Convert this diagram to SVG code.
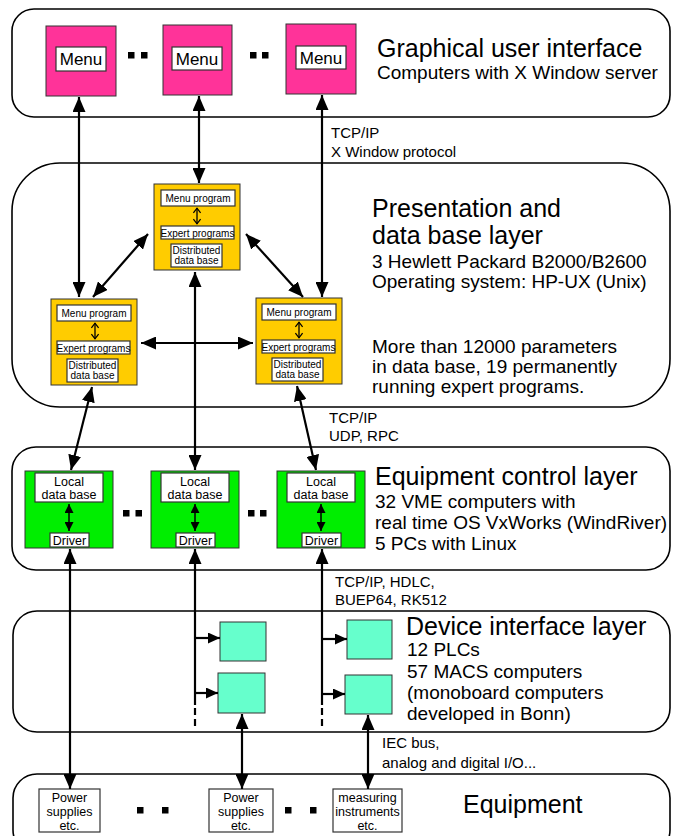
<svg xmlns="http://www.w3.org/2000/svg" width="678" height="836" viewBox="0 0 678 836">
<style>
  .layer { fill: #fff; stroke: #000; stroke-width: 1.6; }
  .pink { fill: #FF3399; stroke: #333; stroke-width: 1; }
  .yellow { fill: #FFCC00; stroke: #333; stroke-width: 1; }
  .green { fill: #00EE00; stroke: #333; stroke-width: 1; }
  .cyan { fill: #66FFCC; stroke: #333; stroke-width: 1; }
  .wbox { fill: #fff; stroke: #333; stroke-width: 1.2; }
  .t { font-family: "Liberation Sans", Arial, sans-serif; fill: #000; }
  .title { font-size: 25px; }
  .sub { font-size: 19px; }
  .proto { font-size: 15px; }
  .menu { font-size: 17px; text-anchor: middle; }
  .ysm { font-size: 10px; text-anchor: middle; }
  .gsm { font-size: 12.5px; text-anchor: middle; }
  .esm { font-size: 12.5px; text-anchor: middle; }
  .conn { stroke: #000; stroke-width: 2.2; fill: none; }
  .big { marker-start: url(#ah); marker-end: url(#ah); }
  .one { marker-end: url(#ah); }
  .br { marker-end: url(#ahs); }
  .thin { stroke: #000; stroke-width: 1.3; fill: none; marker-start: url(#ao); marker-end: url(#ao); }
  .gthin { stroke: #000; stroke-width: 1.5; fill: none; marker-start: url(#ag); marker-end: url(#ag); }
  .dot { fill: #000; }
</style>
<defs>
  <marker id="ah" viewBox="0 0 15 13" refX="15" refY="6.5" markerWidth="15" markerHeight="13" markerUnits="userSpaceOnUse" orient="auto-start-reverse">
    <path d="M0,0 L15,6.5 L0,13 z" fill="#000"/>
  </marker>
  <marker id="ahs" viewBox="0 0 12 11" refX="12" refY="5.5" markerWidth="12" markerHeight="11" markerUnits="userSpaceOnUse" orient="auto-start-reverse">
    <path d="M0,0 L12,5.5 L0,11 z" fill="#000"/>
  </marker>
  <marker id="ao" viewBox="0 0 5 8" refX="4.8" refY="4" markerWidth="5" markerHeight="8" markerUnits="userSpaceOnUse" orient="auto-start-reverse" overflow="visible">
    <path d="M0,0.4 L4.6,4 L0,7.6" fill="none" stroke="#000" stroke-width="1.3"/>
  </marker>
  <marker id="ag" viewBox="0 0 9 9" refX="9" refY="4.5" markerWidth="9" markerHeight="9" markerUnits="userSpaceOnUse" orient="auto-start-reverse">
    <path d="M0,0 L9,4.5 L0,9 z" fill="#000"/>
  </marker>
</defs>

<g id="layer-gui">
  <rect class="layer" x="12" y="9" width="658" height="108" rx="22" ry="22"/>
  <text class="t title" x="377" y="56.5">Graphical user interface</text>
  <text class="t sub" x="377" y="79" font-size="18.7">Computers with X Window server</text>
</g>
<g id="layer-presentation">
  <rect class="layer" x="12" y="163" width="658" height="244" rx="48" ry="48"/>
  <text class="t title" x="372" y="217">Presentation and</text>
  <text class="t title" x="372" y="244">data base layer</text>
  <text class="t sub" x="372" y="268">3 Hewlett Packard B2000/B2600</text>
  <text class="t sub" x="372" y="288">Operating system: HP-UX (Unix)</text>
  <text class="t sub" x="372" y="353">More than 12000 parameters</text>
  <text class="t sub" x="372" y="373">in data base, 19 permanently</text>
  <text class="t sub" x="372" y="393">running expert programs.</text>
</g>
<g id="layer-equipment-control">
  <rect class="layer" x="12" y="447" width="658" height="123" rx="24" ry="24"/>
  <text class="t title" x="375" y="485">Equipment control layer</text>
  <text class="t sub" x="375" y="508">32 VME computers with</text>
  <text class="t sub" x="375" y="529">real time OS VxWorks (WindRiver)</text>
  <text class="t sub" x="375" y="550">5 PCs with Linux</text>
</g>
<g id="layer-device-interface">
  <rect class="layer" x="13" y="611" width="657" height="121" rx="24" ry="24"/>
  <text class="t title" x="406" y="635">Device interface layer</text>
  <text class="t sub" x="407" y="656">12 PLCs</text>
  <text class="t sub" x="407" y="678">57 MACS computers</text>
  <text class="t sub" x="407" y="699">(monoboard computers</text>
  <text class="t sub" x="407" y="720">developed in Bonn)</text>
</g>
<g id="layer-equipment">
  <rect class="layer" x="13" y="774" width="657" height="80" rx="24" ry="24"/>
  <text class="t title" x="463" y="813">Equipment</text>
</g>

<g id="menu-1">
  <rect class="pink" x="46" y="26" width="70" height="70"/>
  <rect class="wbox" x="56" y="47" width="50" height="24"/>
  <text class="t menu" x="81" y="65">Menu</text>
</g>
<g id="menu-2">
  <rect class="pink" x="163" y="25" width="69" height="70"/>
  <rect class="wbox" x="172" y="47" width="50" height="23"/>
  <text class="t menu" x="197" y="65">Menu</text>
</g>
<g id="menu-3">
  <rect class="pink" x="286" y="24" width="70" height="70"/>
  <rect class="wbox" x="296" y="46" width="50" height="23"/>
  <text class="t menu" x="321" y="64">Menu</text>
</g>
<g id="dots-gui">
  <rect class="dot" x="128" y="52" width="6.5" height="6.5"/>
  <rect class="dot" x="141" y="52" width="6.5" height="6.5"/>
  <rect class="dot" x="250" y="52" width="6.5" height="6.5"/>
  <rect class="dot" x="262" y="52" width="6.5" height="6.5"/>
</g>

<g id="server-center">
  <rect class="yellow" x="154" y="184" width="86" height="86"/>
  <rect class="wbox" x="161" y="190" width="74" height="16"/>
  <text class="t ysm" x="198" y="202">Menu program</text>
  <path class="thin" d="M197,208 L197,224"/>
  <rect class="wbox" x="161" y="226" width="73" height="13"/>
  <text class="t ysm" x="197.5" y="236.5" font-size="9.6">Expert programs</text>
  <rect class="wbox" x="171" y="244" width="51" height="23"/>
  <text class="t ysm" x="196.5" y="254">Distributed</text>
  <text class="t ysm" x="196.5" y="264">data base</text>
</g>
<g id="server-left">
  <rect class="yellow" x="51" y="299" width="86" height="86"/>
  <rect class="wbox" x="57" y="305" width="74" height="16"/>
  <text class="t ysm" x="94" y="317">Menu program</text>
  <path class="thin" d="M95,323 L95,339"/>
  <rect class="wbox" x="57" y="341" width="73" height="13"/>
  <text class="t ysm" x="93.5" y="351.5" font-size="9.6">Expert programs</text>
  <rect class="wbox" x="67" y="359" width="51" height="23"/>
  <text class="t ysm" x="92.5" y="369">Distributed</text>
  <text class="t ysm" x="92.5" y="379">data base</text>
</g>
<g id="server-right">
  <rect class="yellow" x="256" y="298" width="86" height="86"/>
  <rect class="wbox" x="262" y="304" width="74" height="16"/>
  <text class="t ysm" x="299" y="316">Menu program</text>
  <path class="thin" d="M299,322 L299,338"/>
  <rect class="wbox" x="262" y="340" width="73" height="13"/>
  <text class="t ysm" x="298.5" y="350.5" font-size="9.6">Expert programs</text>
  <rect class="wbox" x="272" y="358" width="51" height="23"/>
  <text class="t ysm" x="297.5" y="368">Distributed</text>
  <text class="t ysm" x="297.5" y="378">data base</text>
</g>

<g id="vme-1">
  <rect class="green" x="25" y="471" width="88" height="77"/>
  <rect class="wbox" x="35" y="473" width="68" height="29"/>
  <text class="t gsm" x="69" y="486">Local</text>
  <text class="t gsm" x="69" y="499">data base</text>
  <path class="gthin" d="M69,504 L69,531"/>
  <rect class="wbox" x="50" y="533" width="39" height="14"/>
  <text class="t gsm" x="69.5" y="545">Driver</text>
</g>
<g id="vme-2">
  <rect class="green" x="151" y="471" width="88" height="77"/>
  <rect class="wbox" x="161" y="473" width="68" height="29"/>
  <text class="t gsm" x="195" y="486">Local</text>
  <text class="t gsm" x="195" y="499">data base</text>
  <path class="gthin" d="M195,504 L195,531"/>
  <rect class="wbox" x="176" y="533" width="39" height="14"/>
  <text class="t gsm" x="195.5" y="545">Driver</text>
</g>
<g id="vme-3">
  <rect class="green" x="277" y="471" width="88" height="77"/>
  <rect class="wbox" x="287" y="473" width="68" height="29"/>
  <text class="t gsm" x="321" y="486">Local</text>
  <text class="t gsm" x="321" y="499">data base</text>
  <path class="gthin" d="M321,504 L321,531"/>
  <rect class="wbox" x="302" y="533" width="39" height="14"/>
  <text class="t gsm" x="321.5" y="545">Driver</text>
</g>
<g id="dots-vme">
  <rect class="dot" x="123" y="510" width="6.5" height="6.5"/>
  <rect class="dot" x="135.5" y="510" width="6.5" height="6.5"/>
  <rect class="dot" x="248" y="510" width="6.5" height="6.5"/>
  <rect class="dot" x="260" y="510" width="6.5" height="6.5"/>
</g>

<g id="plc-1"><rect class="cyan" x="220" y="622" width="46" height="39"/></g>
<g id="macs-1"><rect class="cyan" x="218" y="673" width="47" height="40"/></g>
<g id="plc-2"><rect class="cyan" x="347" y="620" width="45" height="39"/></g>
<g id="macs-2"><rect class="cyan" x="345" y="675" width="47" height="39"/></g>

<g id="equip-1">
  <rect class="wbox" x="39" y="789" width="61" height="43"/>
  <text class="t esm" x="69.5" y="802">Power</text>
  <text class="t esm" x="69.5" y="816">supplies</text>
  <text class="t esm" x="69.5" y="830">etc.</text>
</g>
<g id="equip-2">
  <rect class="wbox" x="209" y="789" width="64" height="43"/>
  <text class="t esm" x="241" y="802">Power</text>
  <text class="t esm" x="241" y="816">supplies</text>
  <text class="t esm" x="241" y="830">etc.</text>
</g>
<g id="equip-3">
  <rect class="wbox" x="333" y="789" width="69" height="43"/>
  <text class="t esm" x="367.5" y="802">measuring</text>
  <text class="t esm" x="367.5" y="816">instruments</text>
  <text class="t esm" x="367.5" y="830">etc.</text>
</g>
<g id="dots-equip">
  <rect class="dot" x="137" y="807" width="6.5" height="6.5"/>
  <rect class="dot" x="162" y="807" width="6.5" height="6.5"/>
  <rect class="dot" x="285" y="807" width="6.5" height="6.5"/>
  <rect class="dot" x="310" y="807" width="6.5" height="6.5"/>
</g>

<g id="labels">
  <text class="t proto" x="331" y="138">TCP/IP</text>
  <text class="t proto" x="331" y="157">X Window protocol</text>
  <text class="t proto" x="329" y="423">TCP/IP</text>
  <text class="t proto" x="329" y="441">UDP, RPC</text>
  <text class="t proto" x="335" y="587">TCP/IP, HDLC,</text>
  <text class="t proto" x="335" y="605">BUEP64, RK512</text>
  <text class="t proto" x="382" y="748">IEC bus,</text>
  <text class="t proto" x="382" y="768">analog and digital I/O...</text>
</g>

<g id="connectors">
  <path class="conn big" d="M79,97 L79,297"/>
  <path class="conn big" d="M199,96 L199,183"/>
  <path class="conn big" d="M322,95 L322,297"/>
  <path class="conn big" d="M148,234 L93,297"/>
  <path class="conn big" d="M246,234 L303,297"/>
  <path class="conn big" d="M141,343 L253,343"/>
  <path class="conn big" d="M195,272 L195,470"/>
  <path class="conn big" d="M92,387 L71,470"/>
  <path class="conn big" d="M297,386 L316,470"/>
  <path class="conn big" d="M70,549 L70,789"/>
  <path class="conn one" d="M195,705 L195,549"/>
  <path class="conn one" d="M322,705 L322,549"/>
  <path class="conn" d="M195,708 L195,727" stroke-dasharray="7,4"/>
  <path class="conn" d="M322,708 L322,727" stroke-dasharray="7,4"/>
  <path class="conn br" d="M195,638 L220,638"/>
  <path class="conn br" d="M195,693 L218,693"/>
  <path class="conn br" d="M322,639 L347,639"/>
  <path class="conn br" d="M322,694 L345,694"/>
  <path class="conn big" d="M242,714 L242,789"/>
  <path class="conn big" d="M368,715 L368,789"/>
</g>
</svg>
